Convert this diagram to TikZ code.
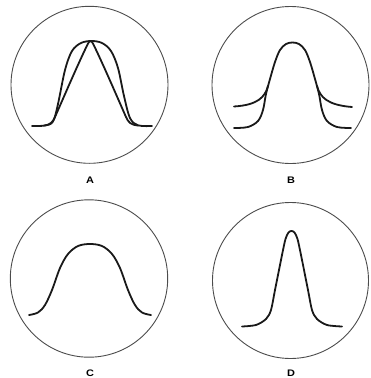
\documentclass[tikz,border=0pt]{standalone}
\usepackage{fontspec}
\setmainfont{Liberation Sans}
\begin{document}
\begin{tikzpicture}[x=1pt,y=-1pt,
  scope/.style={draw=black!70,line width=0.9pt},
  trace/.style={draw=black!90,line width=1.8pt,line cap=round,line join=round},
  lbl/.style={font=\fontsize{9.5}{10}\selectfont\bfseries, inner sep=0pt, xscale=1.15}]
\useasboundingbox (0,0) rectangle (370,378);
% scope faces
\draw[scope] (89.5,84.8) circle (78.5);
\draw[scope] (290.5,85) circle (78.5);
\draw[scope] (89,278.5) circle (78.7);
\draw[scope] (290.5,280.5) circle (78);
% labels
\node[lbl] (la) at (90,180) {A};
\node[lbl] (lb) at (291,180) {B};
\node[lbl] (lc) at (90,373) {C};
\node[lbl] (ld) at (291,373) {D};
% A : wide flat-top trace
\draw[trace] plot[smooth,tension=0.55] coordinates {(32,126) (45,125.5) (53,121.5) (58,104) (65,70) (72,51) (81,43) (91.5,41) (102,43) (111,51) (118,68) (124,96) (130,118) (138,125.3) (152,126)};
% A : narrow triangular trace
\draw[trace] (44,125.6) .. controls (50,125) and (53,122) .. (55,117) .. controls (66,92) and (78,64) .. (88,43.5) .. controls (89.5,40.5) and (91.5,40.5) .. (93,43.5) .. controls (103,64) and (115,92) .. (126,117) .. controls (128,122) and (131,125) .. (138,125.6);
% B : bell with steep sides
\draw[trace] plot[smooth,tension=0.55] coordinates {(234,128) (248,127) (258,121) (263,110) (266,94) (270,79) (275,62) (280,50) (286,44) (292.5,42.5) (299,44) (305,50) (310,62) (315,79) (319,94) (322,110) (327,121) (337,127) (351,128)};
% B : broad wings
\draw[trace] (268,86) .. controls (265,97) and (258,105) .. (234,106.5);
\draw[trace] (317,86) .. controls (320,97) and (327,105) .. (352,107);
% C : broad flat-top trace
\draw[trace] plot[smooth,tension=0.55] coordinates {(29,315) (38,312.5) (45,305) (52,290) (60,268) (68,254) (78,246) (90,244) (102,246) (112,254) (120,268) (128,290) (135,305) (142,312.5) (151,315)};
% D : narrow peak
\draw[trace] plot[smooth,tension=0.5] coordinates {(242,326.5) (256,325) (266,319) (271,310) (275,290) (282,255) (285.5,239) (288.5,232.5) (291.5,231) (294.5,232.5) (297.5,239) (301,255) (308,290) (312,310) (317,319) (327,325) (342,326.5)};
\end{tikzpicture}
\end{document}
